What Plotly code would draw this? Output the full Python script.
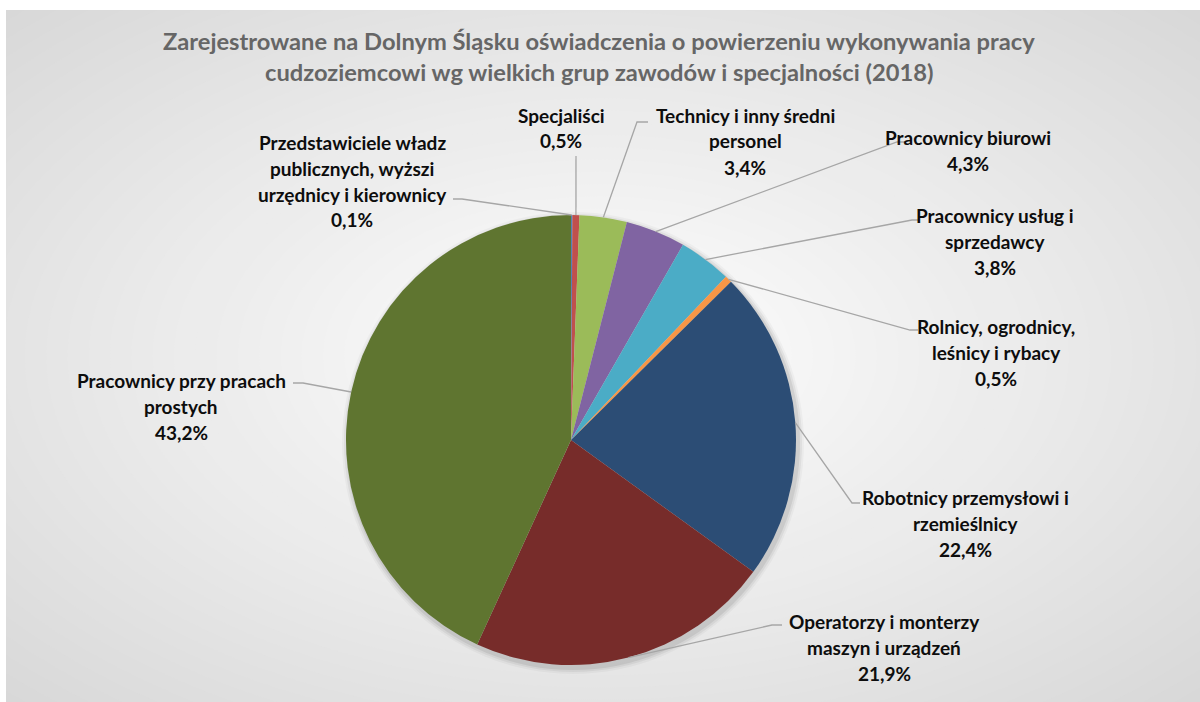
import math
import plotly.graph_objects as go

# ---------------- data ----------------
categories = [
    "Przedstawiciele władz\npublicznych, wyższi\nurzędnicy i kierownicy",
    "Specjaliści",
    "Technicy i inny średni\npersonel",
    "Pracownicy biurowi",
    "Pracownicy usług i\nsprzedawcy",
    "Rolnicy, ogrodnicy,\nleśnicy i rybacy",
    "Robotnicy przemysłowi i\nrzemieślnicy",
    "Operatorzy i monterzy\nmaszyn i urządzeń",
    "Pracownicy przy pracach\nprostych",
]
shares = [0.1, 0.5, 3.4, 4.3, 3.8, 0.5, 22.4, 21.9, 43.2]
colors = ["#4F81BD", "#C0504D", "#9BBB59", "#8064A2", "#4BACC6",
          "#F79646", "#2C4D75", "#772C2A", "#5F7530"]
title_lines = [
    "Zarejestrowane na Dolnym Śląsku oświadczenia o powierzeniu wykonywania pracy",
    "cudzoziemcowi wg wielkich grup zawodów i specjalności (2018)",
]

# ---------------- layout geometry (pixels) ----------------
W, H = 1200, 702
CX, CY, R = 571, 440, 225
# label centre x, first-line y, and leader-line label-side points
label_pos = [
    (352, 142, [(462, 199), (453, 199)]),
    (561, 115, [(576, 156)]),
    (745, 115, [(637, 122), (648, 122)]),
    (968, 137, [(897, 142), (905, 142)]),
    (995, 215, [(912, 220), (918, 220)]),
    (996, 326, [(910, 330), (918, 330)]),
    (965, 497, [(852, 503), (860, 503)]),
    (884, 621, [(772, 625), (782, 625)]),
    (181, 380, [(303, 383), (293, 383)]),
]
LINE_GAP = 26
FONT = "Lato, Carlito, 'Open Sans', sans-serif"


def px(x):
    return x / W


def py(y):
    return 1 - y / H


fig = go.Figure()
fig.add_trace(go.Pie(
    labels=[c.replace("\n", " ") for c in categories],
    values=shares,
    sort=False,
    direction="clockwise",
    rotation=0,
    marker=dict(colors=colors, line=dict(width=0)),
    textinfo="none",
    hoverinfo="label+percent",
    showlegend=False,
    domain=dict(x=[px(CX - R), px(CX + R)], y=[py(CY + R), py(CY - R)]),
))

shapes = []
# radial gradient background
GCX, GCY = 600, 356
steps = 40
for i in range(steps, 0, -1):
    k = i / steps
    rx = k * 600 * 1.42
    ry = k * 346 * 1.42
    v = int(round(255 - (255 - 216) * k))
    shapes.append(dict(type="circle", xref="paper", yref="paper", layer="below",
                       x0=px(GCX - rx), x1=px(GCX + rx), y0=py(GCY + ry), y1=py(GCY - ry),
                       fillcolor=f"rgb({v},{v},{v})", line=dict(width=0)))
# white margins
shapes.append(dict(type="rect", xref="paper", yref="paper", layer="below",
                   x0=0, x1=1, y0=py(10), y1=1.05, fillcolor="white", line=dict(width=0)))
shapes.append(dict(type="rect", xref="paper", yref="paper", layer="below",
                   x0=-0.05, x1=px(6), y0=-0.05, y1=1.05, fillcolor="white", line=dict(width=0)))
# soft pie shadow
for dr, a in [(6, 0.03), (4, 0.05), (2, 0.07)]:
    shapes.append(dict(type="circle", xref="paper", yref="paper", layer="below",
                       x0=px(CX - R - dr + 2), x1=px(CX + R + dr + 2),
                       y0=py(CY + R + dr + 3), y1=py(CY - R - dr + 3),
                       fillcolor=f"rgba(0,0,0,{a})", line=dict(width=0)))

# leader lines, starting from each slice's mid-angle on the pie edge
total = sum(shares)
cum = 0.0
annotations = []
for cat, val, (lx, ly, pts) in zip(categories, shares, label_pos):
    mid = (cum + val / 2) / total * 2 * math.pi
    cum += val
    ex = CX + R * math.sin(mid)
    ey = CY - R * math.cos(mid)
    path_pts = [(ex, ey)] + pts
    d = "M " + " L ".join(f"{px(x):.5f},{py(y):.5f}" for x, y in path_pts)
    shapes.append(dict(type="path", xref="paper", yref="paper", path=d,
                       line=dict(color="#A6A6A6", width=1.3)))
    lines = cat.split("\n") + [f"{val:.1f}%".replace(".", ",")]
    for j, t in enumerate(lines):
        annotations.append(dict(text="<b>" + t + "</b>", x=px(lx), y=py(ly + j * LINE_GAP),
                                xref="paper", yref="paper", showarrow=False,
                                xanchor="center", yanchor="middle",
                                font=dict(family=FONT, size=19, color="#0d0d0d")))

for j, t in enumerate(title_lines):
    annotations.append(dict(text="<b>" + t + "</b>", x=px(599), y=py(41 + j * 31),
                            xref="paper", yref="paper", showarrow=False,
                            xanchor="center", yanchor="middle",
                            font=dict(family=FONT, size=23.7, color="#666666")))

fig.update_layout(
    width=W, height=H,
    margin=dict(l=0, r=0, t=0, b=0),
    paper_bgcolor="white",
    plot_bgcolor="white",
    shapes=shapes,
    annotations=annotations,
    font=dict(family=FONT),
)

fig.write_html("out.html", config={"displayModeBar": False},
               post_script="document.body.style.margin='0';")
